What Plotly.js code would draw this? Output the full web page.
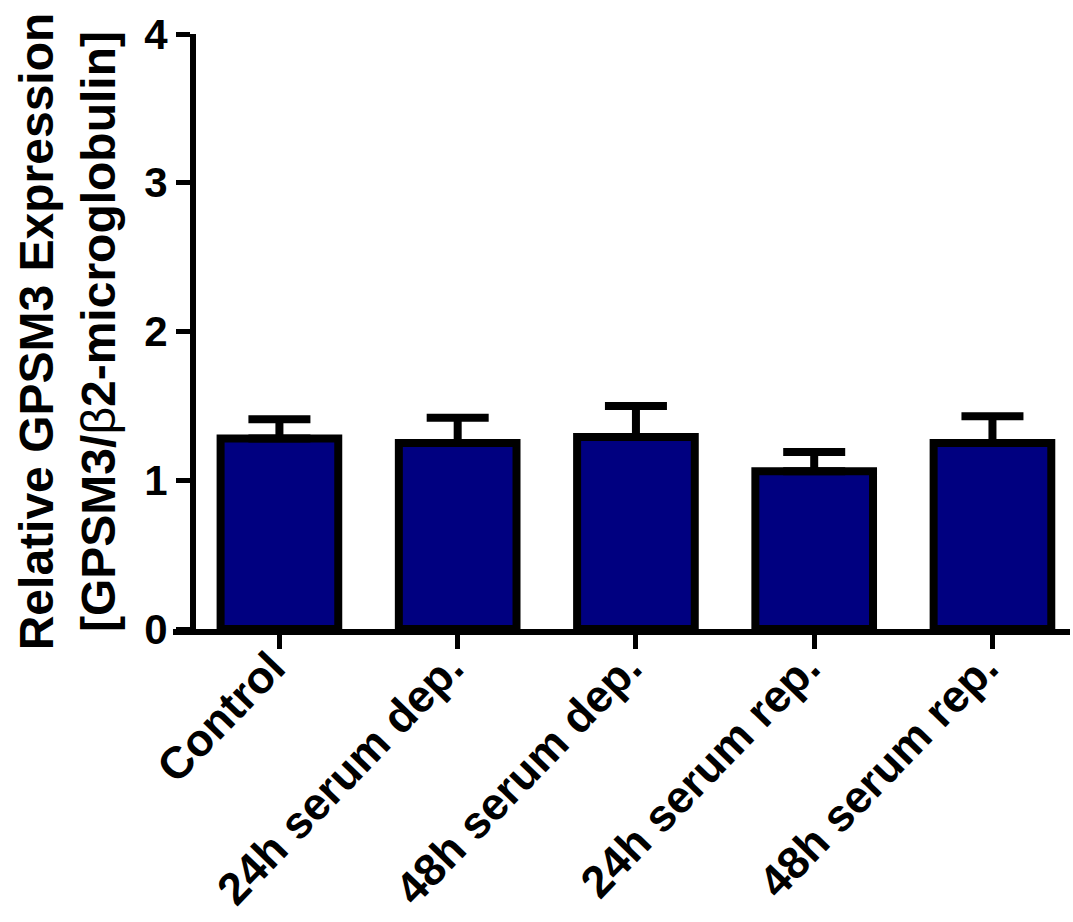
<!DOCTYPE html>
<html>
<head>
<meta charset="utf-8">
<script src="https://cdn.plot.ly/plotly-3.0.1.min.js"></script>
<style>html,body{margin:0;padding:0;background:#fff;}#chart{width:1073px;height:922px;}</style>
</head>
<body>
<div id="chart"></div>
<script>
const categories = ["Control", "24h serum dep.", "48h serum dep.", "24h serum rep.", "48h serum rep."];
const means = [1.28, 1.25, 1.29, 1.06, 1.25];
const sem = [0.13, 0.17, 0.21, 0.13, 0.18];
const yTicks = [0, 1, 2, 3, 4];

const F = "Liberation Sans, Arial, sans-serif";

const trace = {
  type: "bar",
  x: categories,
  y: means,
  width: 0.66,
  marker: { color: "#000080", line: { color: "#000000", width: 8 } },
  error_y: {
    type: "data", symmetric: false,
    array: sem, arrayminus: sem.map(() => 0),
    color: "#000000", thickness: 8, width: 31
  },
  hoverinfo: "skip"
};

const layout = {
  width: 1073, height: 922,
  margin: { l: 173, r: 3, t: 34, b: 293 },
  paper_bgcolor: "#ffffff", plot_bgcolor: "#ffffff",
  showlegend: false,
  font: { family: F, color: "#000", size: 36 },
  xaxis: {
    type: "category",
    range: [-0.597, 4.435],
    showline: true, linecolor: "#000", linewidth: 6,
    ticks: "outside", ticklen: 14, tickwidth: 5, tickcolor: "#000",
    tickangle: -46,
    ticklabelshift: -8, ticklabelstandoff: -26,
    tickfont: { family: F, size: 45, weight: "bold", color: "#000" },
    showgrid: false, zeroline: false, fixedrange: true
  },
  yaxis: {
    range: [0, 4],
    anchor: "free", position: 0.0223,
    tickvals: yTicks, ticktext: yTicks.map(String),
    showline: true, linecolor: "#000", linewidth: 6,
    ticks: "outside", ticklen: 14, tickwidth: 5, tickcolor: "#000",
    tickfont: { family: F, size: 42, weight: "bold", color: "#000" },
    showgrid: false, zeroline: false, fixedrange: true,
    title: {
      text: "Relative GPSM3 Expression<br>[GPSM3/<span style=\"font-weight:normal\">β</span>2-microglobulin]",
      font: { family: F, size: 48, weight: "bold", color: "#000" },
      standoff: 12
    }
  }
};

Plotly.newPlot("chart", [trace], layout, { staticPlot: true, displayModeBar: false });
</script>
</body>
</html>
